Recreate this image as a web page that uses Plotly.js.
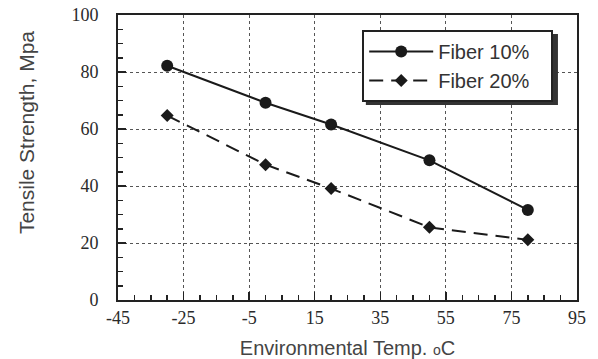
<!DOCTYPE html>
<html>
<head>
<meta charset="utf-8">
<script src="https://cdn.plot.ly/plotly-3.0.1.min.js"></script>
<style>html,body{margin:0;padding:0;background:#fff;}#chart{width:598px;height:359px;}</style>
</head>
<body>
<div id="chart"></div>
<script>
var temps = [-30, 0, 20, 50, 80];
var fiber10 = [82.2, 69.2, 61.6, 49.0, 31.6];
var fiber20 = [64.7, 47.5, 39.1, 25.5, 21.1];
var seriesNames = ["Fiber 10%", "Fiber 20%"];
var xTickVals = [-45, -25, -5, 15, 35, 55, 75, 95];
var xTickText = ["-45", "-25", "-5", "15", "35", "55", "75", "95"];
var yTickVals = [0, 20, 40, 60, 80, 100];
var yTickText = ["0", "20", "40", "60", "80", "100"];
var xTitle = "Environmental Temp. <span style='font-size:14px'>o</span>C";
var yTitle = "Tensile Strength, Mpa";
var legendPad = "\u00a0\u00a0\u00a0";

var data = [
  {x: temps, y: fiber10, name: seriesNames[0] + legendPad, type: "scatter", mode: "lines+markers",
   line: {color: "#1a1a1a", width: 2}, marker: {symbol: "circle", size: 12, color: "#1a1a1a"},
   legendgroup: "a"},
  {x: temps, y: fiber20, name: seriesNames[1] + legendPad, type: "scatter", mode: "lines+markers",
   line: {color: "#1a1a1a", width: 2, dash: "14px,8px"}, marker: {symbol: "diamond", size: 10, color: "#1a1a1a"},
   legendgroup: "b"}
];

var tickFont = {family: "Liberation Serif, Times New Roman, serif", size: 18, color: "#2a2a2a"};
var layout = {
  width: 598, height: 359,
  margin: {l: 118, r: 21, t: 15, b: 59},
  paper_bgcolor: "#fff", plot_bgcolor: "#fff",
  showlegend: true,
  xaxis: {
    range: [-45, 95], autorange: false, tickmode: "array", tickvals: xTickVals, ticktext: xTickText,
    ticks: "inside", ticklen: 8, tickwidth: 1.5, tickcolor: "#222",
    minor: {tick0: -45, dtick: 5, ticks: "inside", ticklen: 5, tickwidth: 1.5, tickcolor: "#222", showgrid: false},
    showline: true, linewidth: 2, linecolor: "#222", mirror: true,
    showgrid: true, gridcolor: "#555", griddash: "dot", gridwidth: 1,
    zeroline: false, tickfont: tickFont, ticklabelstandoff: 0,
    title: {text: xTitle, font: {family: "Liberation Sans, Arial, sans-serif", size: 20, color: "#444"}, standoff: 14}
  },
  yaxis: {
    range: [0, 100], autorange: false, tickmode: "array", tickvals: yTickVals, ticktext: yTickText,
    ticks: "inside", ticklen: 8, tickwidth: 1.5, tickcolor: "#222",
    minor: {tick0: 0, dtick: 5, ticks: "inside", ticklen: 5, tickwidth: 1.5, tickcolor: "#222", showgrid: false},
    showline: true, linewidth: 2, linecolor: "#222", mirror: true,
    showgrid: true, gridcolor: "#555", griddash: "dot", gridwidth: 1,
    zeroline: false, tickfont: tickFont, ticklabelstandoff: 14
  },
  legend: {
    x: 0.532, y: 0.947, xanchor: "left", yanchor: "top",
    bgcolor: "#fff", bordercolor: "#222", borderwidth: 2,
    font: {family: "Liberation Sans, Arial, sans-serif", size: 20, color: "#333"},
    itemwidth: 64, tracegroupgap: 0
  },
  shapes: [
    {type: "rect", xref: "paper", yref: "paper", x0: 0.540, x1: 0.9585, y0: 0.684, y1: 0.933,
     fillcolor: "#333", line: {width: 0}, layer: "above"}
  ],
  annotations: [
    {text: yTitle, xref: "paper", yref: "paper", x: -0.198, y: 0.586, xanchor: "center", yanchor: "middle",
     textangle: -90, showarrow: false, font: {family: "Liberation Sans, Arial, sans-serif", size: 21, color: "#444"}}
  ]
};
Plotly.newPlot("chart", data, layout, {displayModeBar: false, staticPlot: true});
</script>
</body>
</html>
